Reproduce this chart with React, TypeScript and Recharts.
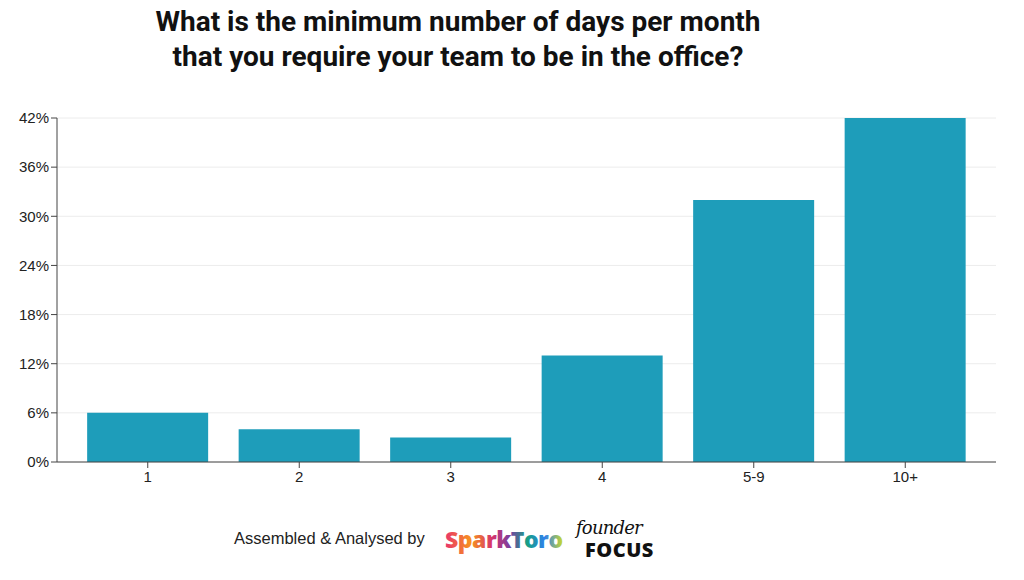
import React from 'react';
import { BarChart, Bar, XAxis, YAxis, CartesianGrid } from 'recharts';

const categories = ['1', '2', '3', '4', '5-9', '10+'];
const shares = [6, 4, 3, 13, 32, 42];
const yTicks = [0, 6, 12, 18, 24, 30, 36, 42];

const chartData = categories.map((days, i) => ({ days, share: shares[i] }));

const FONT = '"Helvetica Neue", Helvetica, Arial, "Liberation Sans", sans-serif';

export default function App() {
  return (
    <div style={{ position: 'absolute', left: 0, top: 0, width: 1024, height: 580, background: '#fff', fontFamily: FONT }}>
      <div
        style={{
          position: 'absolute',
          left: 0,
          top: 4,
          width: 916,
          textAlign: 'center',
          fontFamily: 'Roboto, "Liberation Sans", sans-serif',
          fontWeight: 700,
          fontSize: 28,
          lineHeight: '35px',
          color: '#111',
        }}
      >
        What is the minimum number of days per month
        <br />
        that you require your team to be in the office?
      </div>

      <BarChart
        width={1024}
        height={580}
        data={chartData}
        margin={{ top: 118, right: 28, bottom: 88, left: 7 }}
        barCategoryGap="10%"
      >
        <CartesianGrid vertical={false} stroke="#ececec" />
        <XAxis
          dataKey="days"
          padding={{ left: 15, right: 15 }}
          stroke="#444"
          tickLine={{ stroke: '#444' }}
          tick={{ fill: '#222', fontSize: 15, fontFamily: FONT }}
          tickMargin={3}
        />
        <YAxis
          width={50}
          domain={[0, 42]}
          ticks={yTicks}
          tickFormatter={(v) => `${v}%`}
          stroke="#444"
          tickLine={{ stroke: '#444' }}
          tick={{ fill: '#222', fontSize: 15, fontFamily: FONT }}
          interval={0}
        />
        <Bar dataKey="share" fill="#1e9dba" isAnimationActive={false} />
      </BarChart>

      <div style={{ position: 'absolute', left: 234, top: 529, fontSize: 16.5, color: '#222', fontFamily: FONT }}>
        Assembled &amp; Analysed by
      </div>
      <svg style={{ position: 'absolute', left: 440, top: 514 }} width={230} height={50}>
        <defs>
          <linearGradient id="sparkGrad" x1="0" x2="1" y1="0" y2="0">
            <stop offset="0%" stopColor="#e8336d" />
            <stop offset="22%" stopColor="#f7941d" />
            <stop offset="40%" stopColor="#d6336c" />
            <stop offset="55%" stopColor="#7b3fa0" />
            <stop offset="70%" stopColor="#16a085" />
            <stop offset="85%" stopColor="#2f80ed" />
            <stop offset="100%" stopColor="#c8d82a" />
          </linearGradient>
        </defs>
        <text
          x={5}
          y={34}
          fontFamily='"Open Sans", Roboto, sans-serif'
          fontWeight={800}
          fontSize={23}
          fill="url(#sparkGrad)"
          letterSpacing={-0.5}
        >
          SparkToro
        </text>
        <text x={136} y={20} fontFamily='"DejaVu Serif", serif' fontStyle="italic" fontSize={18} fill="#111" letterSpacing={-0.8}>
          founder
        </text>
        <text x={145} y={43} fontFamily='"Open Sans", Roboto, sans-serif' fontWeight={800} fontSize={20} fill="#111" letterSpacing={0.5}>
          FOCUS
        </text>
      </svg>
    </div>
  );
}
